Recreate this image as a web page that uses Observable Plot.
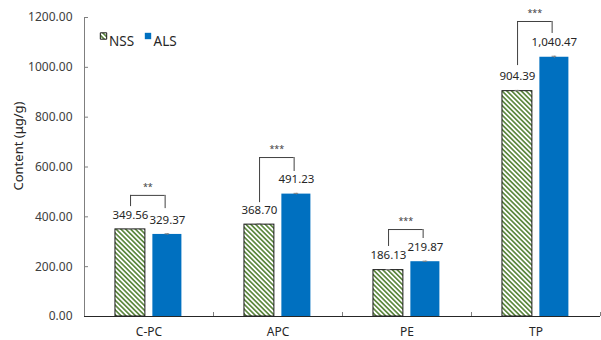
<!DOCTYPE html>
<html><head><meta charset="utf-8">
<script src="https://cdn.jsdelivr.net/npm/d3@7"></script>
<script src="https://cdn.jsdelivr.net/npm/@observablehq/plot@0.6"></script>
<style>body{margin:0;background:#fff} #chart{width:601px;height:340px}</style>
</head><body><div id="chart"></div>
<script>
const categories = ["C-PC", "APC", "PE", "TP"];
const nssValues = [349.56, 368.70, 186.13, 904.39];
const alsValues = [329.37, 491.23, 219.87, 1040.47];
const nssErrors = [3, 3.5, 2, 3];
const alsErrors = [2.5, 3, 2, 4];
const sigLabels = ["**", "***", "***", "***"];
const bracketTop = [486, 638, 349, 1184];
const bracketLeftEnd = [441, 457, 281, 1007];
const bracketRightEnd = [433, 582, 313, 1136];
const yTicks = [0, 200, 400, 600, 800, 1000, 1200];
const seriesNames = ["NSS", "ALS"];
const yLabel = "Content (μg/g)";

// layout of the two bars inside each category band (fractions of the band)
const slot = {NSS: [0.24, 0.472], ALS: [0.53, 0.755]};
const legL = 0.357, legR = 0.625;

const rows = [];
categories.forEach((c, i) => {
  rows.push({cat: c, i, series: "NSS", value: nssValues[i], err: nssErrors[i]});
  rows.push({cat: c, i, series: "ALS", value: alsValues[i], err: alsErrors[i]});
});
rows.forEach(d => { d.x1 = d.i + slot[d.series][0]; d.x2 = d.i + slot[d.series][1]; d.cx = (d.x1 + d.x2) / 2; });
const nssRows = rows.filter(d => d.series === "NSS");
const alsRows = rows.filter(d => d.series === "ALS");
const brackets = categories.map((c, i) => ({i, top: bracketTop[i], lEnd: bracketLeftEnd[i], rEnd: bracketRightEnd[i], sig: sigLabels[i]}));
const fmt = d3.format(",.2f");
const bounds = d3.range(categories.length + 1);

const W = 601, H = 340, mL = 84, mR = 1, mT = 17, mB = 24;
const frameW = W - mL - mR, frameH = H - mT - mB;

const svg = Plot.plot({
  width: W, height: H,
  marginLeft: mL, marginRight: mR, marginTop: mT, marginBottom: mB,
  style: {fontFamily: "'Noto Sans', sans-serif", fontSize: "12px", color: "#404040", background: "#fff"},
  x: {type: "linear", domain: [0, categories.length]},
  y: {domain: [0, 1200]},
  marks: [
    Plot.rectY(nssRows, {x1: "x1", x2: "x2", y1: 0, y2: "value", fill: "url(#nssHatch)", stroke: "#1a1a1a", strokeWidth: 1}),
    Plot.rectY(alsRows, {x1: "x1", x2: "x2", y1: 0, y2: "value", fill: "#0070C0"}),
    Plot.ruleX(rows, {x: "cx", y1: d => d.value - d.err, y2: d => d.value + d.err, stroke: "#808080"}),
    Plot.ruleY(rows, {y: d => d.value + d.err, x1: d => d.cx - 0.018, x2: d => d.cx + 0.018, stroke: "#808080"}),
    Plot.text(rows, {x: "cx", y: "value", text: d => fmt(d.value), dy: -14.5, fontSize: 11.5, fill: "#262626"}),
    Plot.ruleY(brackets, {y: "top", x1: d => d.i + legL, x2: d => d.i + legR, stroke: "#404040"}),
    Plot.ruleX(brackets, {x: d => d.i + legL, y1: "lEnd", y2: "top", stroke: "#404040"}),
    Plot.ruleX(brackets, {x: d => d.i + legR, y1: "rEnd", y2: "top", stroke: "#404040"}),
    Plot.text(brackets, {x: d => d.i + (legL + legR) / 2, y: "top", text: "sig", dy: -8, fontSize: 9, fill: "#404040"}),
    Plot.axisY({ticks: yTicks, tickFormat: d3.format(".2f"), tickSize: 0, tickPadding: 12, fontSize: 12, label: null, fill: "#404040"}),
    Plot.ruleY(yTicks, {insetRight: frameW - 4, stroke: "#7f7f7f"}),
    Plot.ruleX([0], {stroke: "#7f7f7f"}),
    Plot.ruleX(bounds, {insetTop: frameH - 4, stroke: "#7f7f7f"}),
    Plot.ruleY([0], {stroke: "#262626"}),
    Plot.axisX({ticks: categories.map((c, i) => i + 0.5), tickFormat: d => categories[Math.floor(d)], tickSize: 0, tickPadding: 11, fontSize: 12, label: null, fill: "#262626"}),
    Plot.text([yLabel], {frameAnchor: "left", rotate: -90, textAnchor: "middle", lineAnchor: "middle", dx: -66, dy: -21, fontSize: 13, fill: "#262626"}),
    Plot.dot([seriesNames[0]], {frameAnchor: "top-left", dx: 19, dy: 18.5, symbol: "square", r: 3.6, fill: "url(#nssHatch)", stroke: "#1a1a1a", strokeWidth: 1}),
    Plot.text([seriesNames[0]], {frameAnchor: "top-left", dx: 24.5, dy: 18.5, textAnchor: "start", fontSize: 13.5, fill: "#262626"}),
    Plot.dot([seriesNames[1]], {frameAnchor: "top-left", dx: 63.5, dy: 18.5, symbol: "square", r: 3.6, fill: "#0070C0"}),
    Plot.text([seriesNames[1]], {frameAnchor: "top-left", dx: 69, dy: 18.5, textAnchor: "start", fontSize: 13.5, fill: "#262626"})
  ]
});

const P = 3.4;
const defs = d3.select(svg).insert("defs", ":first-child");
const pat = defs.append("pattern").attr("id", "nssHatch").attr("patternUnits", "userSpaceOnUse")
  .attr("width", P).attr("height", P).attr("patternTransform", "rotate(45)");
pat.append("rect").attr("width", P).attr("height", P).attr("fill", "#fff");
pat.append("line").attr("x1", 0).attr("y1", P / 2).attr("x2", P).attr("y2", P / 2)
  .attr("stroke", "#548235").attr("stroke-width", 1.6);

document.getElementById("chart").appendChild(svg);
</script>
</body></html>
